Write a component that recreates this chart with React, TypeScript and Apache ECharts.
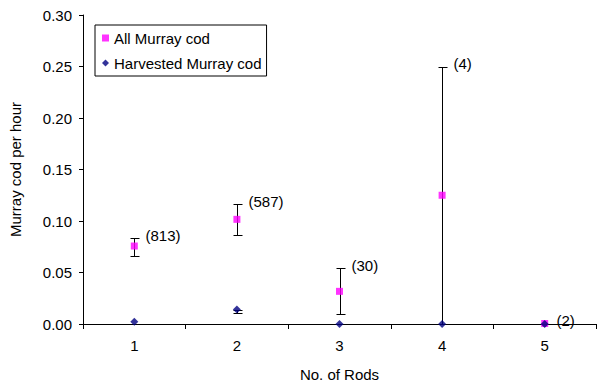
import React, { useEffect, useRef } from "react";
import * as echarts from "echarts";

const categories = ["1", "2", "3", "4", "5"];
const allCod = [0.0757, 0.1016, 0.0317, 0.125, 0.0005];
const allLow = [0.0657, 0.0861, 0.0094, 0.0, 0.0005];
const allHigh = [0.0832, 0.1162, 0.054, 0.25, 0.0005];
const sampleSizes = ["(813)", "(587)", "(30)", "(4)", "(2)"];
const harvested = [0.0023, 0.014, 0, 0, 0];
const harvLow = [0.0023, 0.0105, 0, 0, 0];
const harvHigh = [0.0023, 0.014, 0, 0, 0];
const yTicks = [0, 0.05, 0.1, 0.15, 0.2, 0.25, 0.3];

const FONT = "'Liberation Sans', Arial, sans-serif";
const FS = 15;

function makeErrorRender(labels: string[] | null) {
  return (params: any, api: any) => {
    const i = api.value(0);
    const lo = api.value(1);
    const hi = api.value(2);
    const pLo = api.coord([i, lo]);
    const pHi = api.coord([i, hi]);
    const x = Math.round(pLo[0]) + 0.5;
    const children: any[] = [];
    const stroke = { stroke: "#000", lineWidth: 1 };
    if (Math.abs(pLo[1] - pHi[1]) > 0.5) {
      const yl = Math.round(pLo[1]) + 0.5;
      const yh = Math.round(pHi[1]) + 0.5;
      children.push({ type: "line", shape: { x1: x, y1: yl, x2: x, y2: yh }, style: stroke });
      children.push({ type: "line", shape: { x1: x - 4, y1: yh, x2: x + 5, y2: yh }, style: stroke });
      children.push({ type: "line", shape: { x1: x - 4, y1: yl, x2: x + 5, y2: yl }, style: stroke });
    }
    if (labels) {
      children.push({
        type: "text",
        x: x + 11,
        y: pHi[1] - 3,
        style: {
          text: labels[params.dataIndex],
          fill: "#000",
          font: `${FS}px ${FONT}`,
          textAlign: "left",
          textVerticalAlign: "middle",
        },
      });
    }
    return { type: "group", children };
  };
}

export default function App() {
  const ref = useRef<HTMLDivElement>(null);
  useEffect(() => {
    if (!ref.current) return;
    const chart = echarts.init(ref.current, null, { renderer: "svg" });
    chart.setOption({
      animation: false,
      backgroundColor: "#fff",
      textStyle: { fontFamily: FONT, color: "#000" },
      grid: { left: 70, right: 14, top: 15, bottom: 66 },
      legend: {
        left: 95,
        top: 25,
        orient: "vertical",
        borderColor: "#000",
        borderWidth: 1,
        padding: [4, 5, 4, 7],
        itemGap: 7,
        itemWidth: 7,
        itemHeight: 7,
        textStyle: { fontSize: FS, color: "#000", fontFamily: FONT, lineHeight: 18 },
        data: [
          { name: "All Murray cod", icon: "rect" },
          { name: "Harvested Murray cod", icon: "diamond" },
        ],
      },
      xAxis: {
        type: "category",
        data: categories,
        boundaryGap: true,
        name: "No. of Rods",
        nameLocation: "middle",
        nameGap: 43,
        nameTextStyle: { fontSize: FS, color: "#000", fontFamily: FONT },
        axisLine: { lineStyle: { color: "#000", width: 1 } },
        axisTick: { show: true, length: 5, lineStyle: { color: "#000" } },
        axisLabel: { fontSize: FS, color: "#000", margin: 14, fontFamily: FONT },
        splitLine: { show: false },
      },
      yAxis: {
        type: "value",
        min: yTicks[0],
        max: yTicks[yTicks.length - 1],
        interval: 0.05,
        name: "Murray cod per hour",
        nameLocation: "middle",
        nameGap: 60,
        nameTextStyle: { fontSize: FS, color: "#000", fontFamily: FONT },
        axisLine: { show: true, lineStyle: { color: "#000", width: 1 } },
        axisTick: { show: true, length: 4, lineStyle: { color: "#000" } },
        axisLabel: {
          fontSize: FS,
          color: "#000",
          margin: 11,
          fontFamily: FONT,
          formatter: (v: number) => v.toFixed(2),
        },
        splitLine: { show: false },
      },
      series: [
        {
          type: "custom",
          name: "allErr",
          z: 1,
          renderItem: makeErrorRender(sampleSizes),
          data: categories.map((_, i) => [i, allLow[i], allHigh[i]]),
          silent: true,
        },
        {
          type: "custom",
          name: "harvErr",
          z: 1,
          renderItem: makeErrorRender(null),
          data: categories.map((_, i) => [i, harvLow[i], harvHigh[i]]),
          silent: true,
        },
        {
          type: "scatter",
          name: "All Murray cod",
          z: 3,
          symbol: "rect",
          symbolSize: 7,
          itemStyle: { color: "#FF00FF" },
          data: allCod,
        },
        {
          type: "scatter",
          name: "Harvested Murray cod",
          z: 4,
          symbol: "diamond",
          symbolSize: 8,
          itemStyle: { color: "#000080" },
          data: harvested,
        },
      ],
    });
    return () => chart.dispose();
  }, []);
  return <div ref={ref} style={{ width: 610, height: 390, position: "absolute", left: 0, top: 0 }} />;
}
